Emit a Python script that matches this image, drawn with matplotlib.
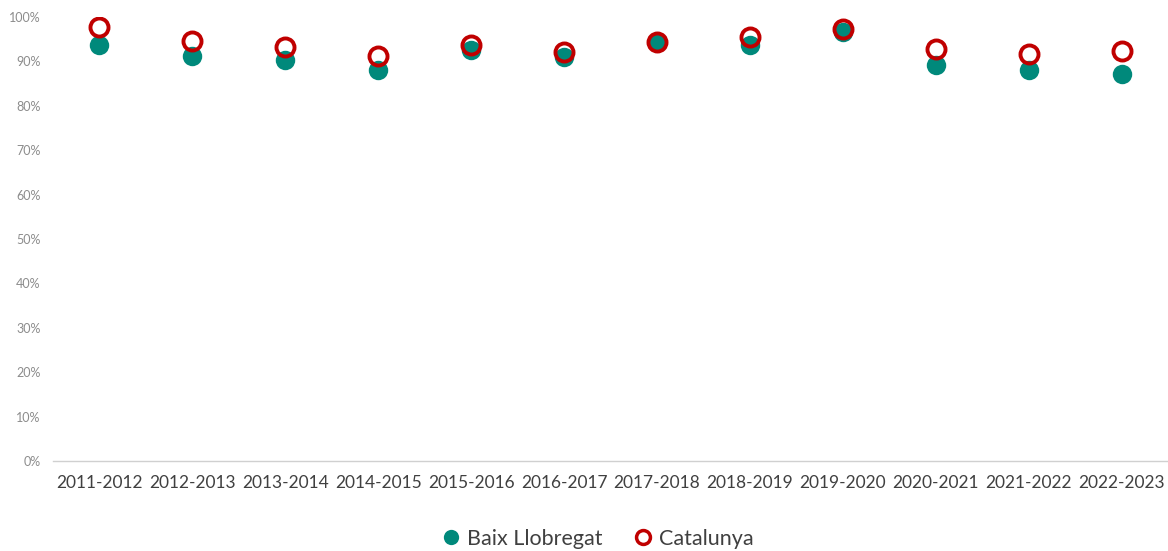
import matplotlib.pyplot as plt
from matplotlib.ticker import PercentFormatter, MultipleLocator
from matplotlib.lines import Line2D

plt.rcParams['font.family'] = ['Lato', 'DejaVu Sans']

# school years and values (share, 0-1)
years = ['2011-2012', '2012-2013', '2013-2014', '2014-2015', '2015-2016', '2016-2017',
         '2017-2018', '2018-2019', '2019-2020', '2020-2021', '2021-2022', '2022-2023']
baix = [0.937, 0.913, 0.903, 0.881, 0.926, 0.911, 0.944, 0.938, 0.967, 0.892, 0.881, 0.872]
catalunya = [0.978, 0.947, 0.933, 0.913, 0.936, 0.922, 0.944, 0.956, 0.974, 0.929, 0.916, 0.924]

teal = '#00897B'
red = '#C00000'

fig = plt.figure(figsize=(11.68, 5.51), dpi=100)
ax = fig.add_axes([53 / 1168, 90 / 551, 1115 / 1168, 444 / 551])

x = range(len(years))
ax.plot(x, baix, 'o', color=teal, markersize=14, markeredgewidth=0, zorder=3, label='Baix Llobregat')
ax.plot(x, catalunya, 'o', markerfacecolor='none', markeredgecolor=red, markersize=13,
        markeredgewidth=2.8, zorder=4, label='Catalunya')

ax.set_xlim(-0.5, len(years) - 0.5)
ax.set_ylim(0, 1)
ax.yaxis.set_major_locator(MultipleLocator(0.1))
ax.yaxis.set_major_formatter(PercentFormatter(1.0, decimals=0))
ax.set_xticks(list(x))
ax.set_xticklabels(years)

for s in ['top', 'right', 'left']:
    ax.spines[s].set_visible(False)
ax.spines['bottom'].set_color('#d0d0d0')
ax.spines['bottom'].set_linewidth(1)
ax.tick_params(axis='y', length=0, labelsize=9, labelcolor='#8c8c8c', pad=9)
ax.tick_params(axis='x', length=0, labelsize=12.5, labelcolor='#404040', pad=10)

handles = [Line2D([], [], marker='o', linestyle='', color=teal, markersize=11, markeredgewidth=0),
           Line2D([], [], marker='o', linestyle='', markerfacecolor='none', markeredgecolor=red,
                  markersize=10, markeredgewidth=2.5)]
fig.legend(handles, ['Baix Llobregat', 'Catalunya'], loc='center', bbox_to_anchor=(0.512, 0.022),
           ncol=2, frameon=False, fontsize=15.5, labelcolor='#404040', handlelength=0.8,
           handletextpad=0.35, columnspacing=1.5)

fig.savefig('out.png', dpi=100)
